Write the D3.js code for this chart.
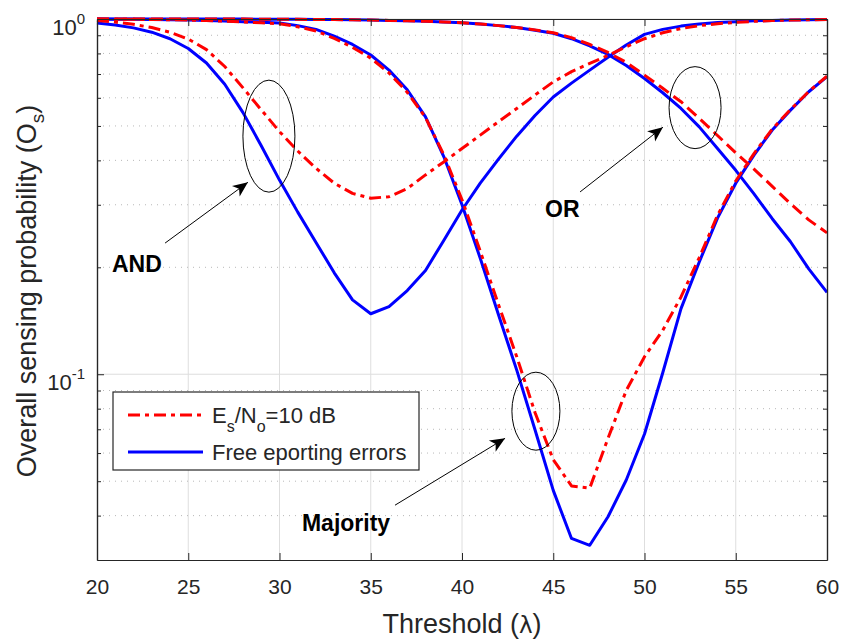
<!DOCTYPE html>
<html>
<head>
<meta charset="utf-8">
<script src="https://cdn.jsdelivr.net/npm/d3@7/dist/d3.min.js"></script>
<style>
body { margin: 0; background: #fff; }
svg text { font-family: "Liberation Sans", Arial, Helvetica, sans-serif; fill: #262626; }
</style>
</head>
<body>
<svg id="chart" width="842" height="641"></svg>
<script>
// Threshold values (lambda)
const lambda = [20, 21, 22, 23, 24, 25, 26, 27, 28, 29, 30, 31, 32, 33, 34, 35, 36, 37, 38, 39, 40,
                41, 42, 43, 44, 45, 46, 47, 48, 49, 50, 51, 52, 53, 54, 55, 56, 57, 58, 59, 60];

// AND rule
const andFree = [0.975, 0.962, 0.944, 0.918, 0.88, 0.826, 0.752, 0.655, 0.545, 0.44, 0.352, 0.286, 0.235, 0.193, 0.162, 0.148, 0.155, 0.172, 0.196, 0.238, 0.29,
                 0.345, 0.403, 0.468, 0.535, 0.603, 0.66, 0.718, 0.78, 0.845, 0.905, 0.935, 0.955, 0.968, 0.977, 0.983, 0.988, 0.991, 0.993, 0.995, 0.997];
const andNoisy = [0.99, 0.98, 0.966, 0.946, 0.918, 0.878, 0.82, 0.735, 0.64, 0.555, 0.482, 0.425, 0.38, 0.345, 0.323, 0.313, 0.316, 0.333, 0.364, 0.396, 0.432,
                  0.471, 0.514, 0.56, 0.611, 0.665, 0.711, 0.75, 0.79, 0.835, 0.88, 0.915, 0.94, 0.958, 0.97, 0.978, 0.985, 0.99, 0.993, 0.995, 0.997];

// Majority rule
const majFree = [0.9995, 0.999, 0.998, 0.997, 0.995, 0.993, 0.99, 0.987, 0.983, 0.979, 0.975, 0.958, 0.935, 0.895, 0.848, 0.792, 0.718, 0.632, 0.53, 0.41, 0.3,
                 0.212, 0.147, 0.1027, 0.0698, 0.0471, 0.0345, 0.033, 0.0397, 0.0504, 0.0679, 0.101, 0.153, 0.207, 0.275, 0.345, 0.414, 0.487, 0.554, 0.624, 0.688];
const majNoisy = [0.9995, 0.999, 0.998, 0.997, 0.995, 0.993, 0.99, 0.986, 0.981, 0.976, 0.97, 0.951, 0.925, 0.882, 0.832, 0.776, 0.705, 0.622, 0.528, 0.415, 0.31,
                  0.222, 0.157, 0.112, 0.078, 0.0575, 0.0485, 0.0478, 0.066, 0.09, 0.112, 0.133, 0.165, 0.213, 0.28, 0.35, 0.418, 0.49, 0.556, 0.625, 0.69];

// OR rule
const orFree = [1.0, 1.0, 1.0, 1.0, 0.9999, 0.9998, 0.9997, 0.9995, 0.9993, 0.999, 0.9985, 0.998, 0.997, 0.996, 0.995, 0.993, 0.991, 0.988, 0.985, 0.981, 0.976,
                0.968, 0.958, 0.946, 0.93, 0.912, 0.88, 0.84, 0.795, 0.74, 0.68, 0.62, 0.56, 0.497, 0.432, 0.375, 0.322, 0.274, 0.236, 0.198, 0.17];
const orNoisy = [1.0, 1.0, 1.0, 1.0, 0.9999, 0.9998, 0.9997, 0.9995, 0.9993, 0.999, 0.9985, 0.998, 0.997, 0.996, 0.995, 0.993, 0.991, 0.988, 0.985, 0.981, 0.976,
                 0.968, 0.958, 0.946, 0.932, 0.915, 0.886, 0.848, 0.805, 0.755, 0.695, 0.638, 0.585, 0.525, 0.47, 0.42, 0.378, 0.338, 0.302, 0.272, 0.25];

const xTicks = [20, 25, 30, 35, 40, 45, 50, 55, 60];
const yTicks = [0.1, 1];
const yTickExp = ["-1", "0"];
const yMinor = [0.04, 0.05, 0.06, 0.07, 0.08, 0.09, 0.2, 0.3, 0.4, 0.5, 0.6, 0.7, 0.8, 0.9];

const legendLabels = ["noisy", "free"];

// annotations: label, ellipse centre, arrow start/end, text anchor (lambda, value)
const labels = ["AND", "OR", "Majority"];
const ellipseAt = [[29.42, 0.468], [52.77, 0.563], [44.05, 0.0787]];
const ellipseR = [[26, 56], [26, 41], [24, 39]];
const arrowFrom = [[23.73, 0.234], [46.47, 0.326], [36.33, 0.0428]];
const arrowTo = [[28.27, 0.347], [51.01, 0.496], [42.36, 0.066]];
const labelAt = [[20.82, 0.194], [44.55, 0.277], [31.23, 0.0361]];

const svg = d3.select('#chart');
const margin = { top: 19, right: 15, bottom: 81, left: 97 };
const width = +svg.attr("width") - margin.left - margin.right;
const height = +svg.attr("height") - margin.top - margin.bottom;
const g = svg.append("g").attr("transform", `translate(${margin.left},${margin.top})`);

const x = d3.scaleLinear().domain([20, 60]).range([0, width]);
const y = d3.scaleLog().domain([0.03, 1]).range([height, 0]);

// grid
g.append("g").selectAll("line")
    .data(xTicks.slice(1, -1))
    .enter().append("line")
    .attr("x1", d => x(d)).attr("x2", d => x(d))
    .attr("y1", 0).attr("y2", height)
    .attr("stroke", "#dedede").attr("stroke-width", 1);
g.append("g").selectAll("line")
    .data(yMinor)
    .enter().append("line")
    .attr("x1", 0).attr("x2", width)
    .attr("y1", d => y(d)).attr("y2", d => y(d))
    .attr("stroke", "#b8b8b8").attr("stroke-width", 1)
    .attr("stroke-dasharray", "1,5");
g.append("g").selectAll("line")
    .data(yTicks)
    .enter().append("line")
    .attr("x1", 0).attr("x2", width)
    .attr("y1", d => y(d)).attr("y2", d => y(d))
    .attr("stroke", "#dedede").attr("stroke-width", 1);

// curves
const line = d3.line()
    .x((d, i) => x(lambda[i]))
    .y(d => y(d));

const series = [
    { values: andFree, color: "#0000ff", dash: null },
    { values: majFree, color: "#0000ff", dash: null },
    { values: orFree, color: "#0000ff", dash: null },
    { values: andNoisy, color: "#ff0000", dash: "12,5,4,5" },
    { values: majNoisy, color: "#ff0000", dash: "12,5,4,5" },
    { values: orNoisy, color: "#ff0000", dash: "12,6" }
];

g.selectAll(".curve")
    .data(series)
    .enter().append("path")
    .attr("class", "curve")
    .attr("fill", "none")
    .attr("stroke", d => d.color)
    .attr("stroke-width", 3)
    .attr("stroke-dasharray", d => d.dash)
    .attr("stroke-linejoin", "round")
    .attr("d", d => line(d.values));

// axes (box with inward ticks)
function styleAxis(sel) {
    sel.select(".domain").attr("stroke", "#262626").attr("stroke-width", 1.2);
    sel.selectAll(".tick line").attr("stroke", "#262626");
}

const xAxis = g.append("g")
    .attr("transform", `translate(0,${height})`)
    .call(d3.axisBottom(x).tickValues(xTicks).tickSize(-7).tickSizeOuter(0).tickPadding(19));
styleAxis(xAxis);
xAxis.selectAll("text").style("font-size", "21px").attr("fill", "#262626");

g.append("g")
    .call(d3.axisTop(x).tickValues(xTicks).tickSize(-7).tickSizeOuter(0).tickFormat(""))
    .call(styleAxis);
g.append("g")
    .call(d3.axisLeft(y).tickValues(yTicks).tickSize(-7).tickSizeOuter(0).tickFormat(""))
    .call(styleAxis);
g.append("g")
    .attr("transform", `translate(${width},0)`)
    .call(d3.axisRight(y).tickValues(yTicks).tickSize(-7).tickSizeOuter(0).tickFormat(""))
    .call(styleAxis);
g.append("g")
    .call(d3.axisLeft(y).tickValues(yMinor).tickSize(-4).tickSizeOuter(0).tickFormat(""))
    .call(styleAxis);
g.append("g")
    .attr("transform", `translate(${width},0)`)
    .call(d3.axisRight(y).tickValues(yMinor).tickSize(-4).tickSizeOuter(0).tickFormat(""))
    .call(styleAxis);

// y tick labels 10^n
const yLab = g.append("g").selectAll("text")
    .data(yTicks)
    .enter().append("text")
    .attr("x", -12)
    .attr("y", d => y(d) + 16)
    .attr("text-anchor", "end")
    .style("font-size", "22px");
yLab.append("tspan").text("10");
yLab.append("tspan").attr("dy", -11).style("font-size", "15px").text((d, i) => yTickExp[i]);

// axis titles
const xTitle = svg.append("text")
    .attr("x", margin.left + width / 2)
    .attr("y", 633)
    .attr("text-anchor", "middle")
    .style("font-size", "27px");
xTitle.append("tspan").text("Threshold (");
xTitle.append("tspan").style("font-family", "'DejaVu Sans', sans-serif").style("font-size", "23px").text("λ");
xTitle.append("tspan").text(")");

const yTitle = svg.append("text")
    .attr("transform", "translate(36,291) rotate(-90)")
    .attr("text-anchor", "middle")
    .style("font-size", "27px");
yTitle.append("tspan").text("Overall sensing probability (O");
yTitle.append("tspan").attr("dy", 8).style("font-size", "19px").text("s");
yTitle.append("tspan").attr("dy", -8).text(")");

// annotations
svg.append("defs").append("marker")
    .attr("id", "head")
    .attr("viewBox", "-16 -8 18 16")
    .attr("refX", 0).attr("refY", 0)
    .attr("markerWidth", 18).attr("markerHeight", 16)
    .attr("markerUnits", "userSpaceOnUse")
    .attr("orient", "auto")
    .append("path")
    .attr("d", "M0,0 L-15,-6.5 L-11,0 L-15,6.5 Z")
    .attr("fill", "#000");

const ann = g.append("g");
ann.selectAll("ellipse")
    .data(labels)
    .enter().append("ellipse")
    .attr("cx", (d, i) => x(ellipseAt[i][0]))
    .attr("cy", (d, i) => y(ellipseAt[i][1]))
    .attr("rx", (d, i) => ellipseR[i][0])
    .attr("ry", (d, i) => ellipseR[i][1])
    .attr("fill", "none")
    .attr("stroke", "#000")
    .attr("stroke-width", 1);
ann.selectAll(".arrow")
    .data(labels)
    .enter().append("line")
    .attr("class", "arrow")
    .attr("x1", (d, i) => x(arrowFrom[i][0]))
    .attr("y1", (d, i) => y(arrowFrom[i][1]))
    .attr("x2", (d, i) => x(arrowTo[i][0]))
    .attr("y2", (d, i) => y(arrowTo[i][1]))
    .attr("stroke", "#000")
    .attr("stroke-width", 1)
    .attr("marker-end", "url(#head)");
ann.selectAll(".lbl")
    .data(labels)
    .enter().append("text")
    .attr("class", "lbl")
    .attr("x", (d, i) => x(labelAt[i][0]))
    .attr("y", (d, i) => y(labelAt[i][1]))
    .style("font-size", "23px")
    .style("font-weight", "bold")
    .style("fill", "#000")
    .text(d => d);

// legend
const legend = svg.append("g");
legend.append("rect")
    .attr("x", 113).attr("y", 392)
    .attr("width", 306).attr("height", 78)
    .attr("fill", "#fff")
    .attr("stroke", "#262626").attr("stroke-width", 1.2);
const rows = legend.selectAll(".row")
    .data(legendLabels)
    .enter().append("g")
    .attr("class", "row")
    .attr("transform", (d, i) => `translate(0,${415 + i * 37})`);
rows.append("line")
    .attr("x1", 128).attr("x2", 203)
    .attr("stroke", (d, i) => i === 0 ? "#ff0000" : "#0000ff")
    .attr("stroke-width", 3)
    .attr("stroke-dasharray", (d, i) => i === 0 ? "12,5,4,5" : null);
const noisyText = rows.filter((d, i) => i === 0).append("text")
    .attr("x", 212).attr("y", 8)
    .style("font-size", "22px");
noisyText.append("tspan").text("E");
noisyText.append("tspan").attr("dy", 9).style("font-size", "16px").text("s");
noisyText.append("tspan").attr("dy", -9).text("/N");
noisyText.append("tspan").attr("dy", 9).style("font-size", "16px").text("o");
noisyText.append("tspan").attr("dy", -9).text("=10 dB");
rows.filter((d, i) => i === 1).append("text")
    .attr("x", 212).attr("y", 8)
    .style("font-size", "22px")
    .text("Free eporting errors");
</script>
</body>
</html>
